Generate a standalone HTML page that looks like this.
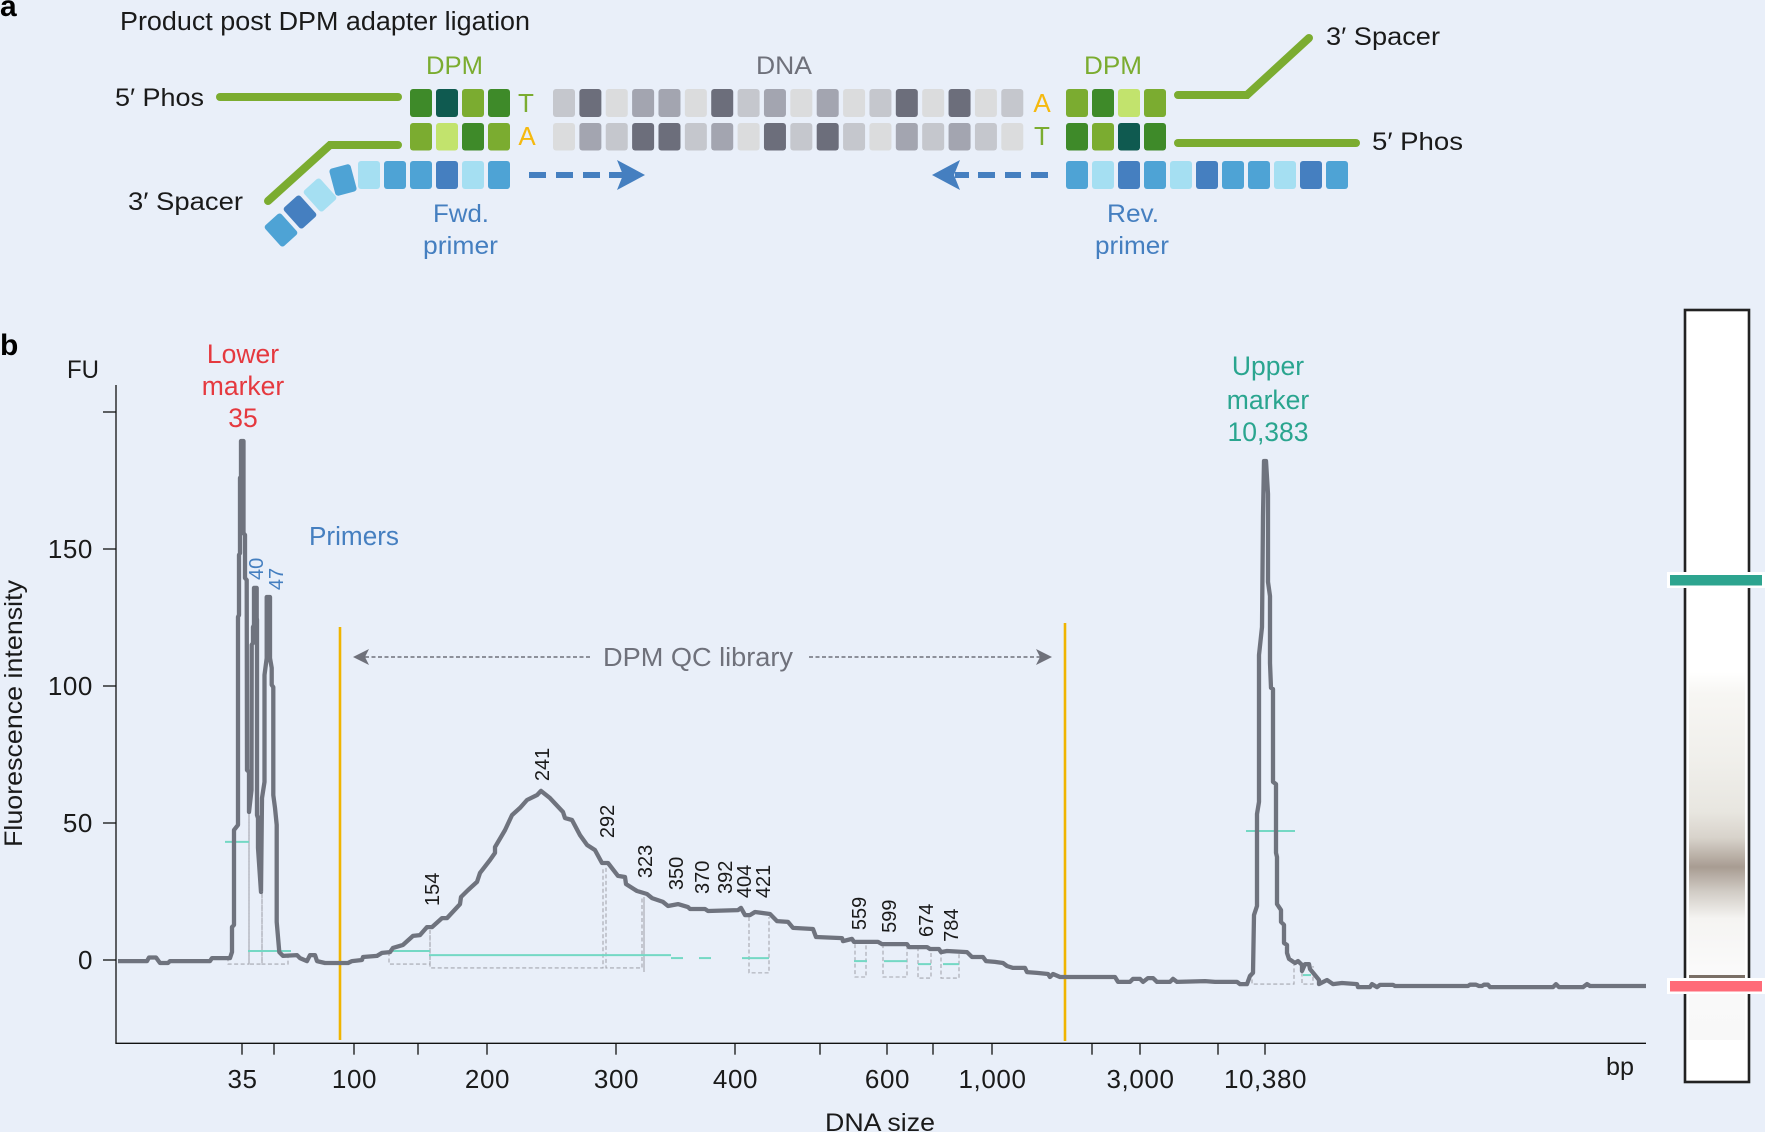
<!DOCTYPE html>
<html lang="en">
<head>
<meta charset="utf-8">
<title>DPM adapter ligation and library QC electropherogram</title>
<style>
  html, body { margin: 0; padding: 0; background: #e9eff9; }
  svg { display: block; font-family: "Liberation Sans", sans-serif; }
</style>
</head>
<body>
<svg id="figure" xmlns="http://www.w3.org/2000/svg" width="1765" height="1132" viewBox="0 0 1765 1132">
  <defs>
    <linearGradient id="gel-smear" gradientUnits="userSpaceOnUse" x1="0" y1="672" x2="0" y2="1040">
      <stop offset="0" stop-color="#ffffff"/>
      <stop offset="0.06" stop-color="#f7f6f3"/>
      <stop offset="0.24" stop-color="#f0efeb"/>
      <stop offset="0.38" stop-color="#e8e6e0"/>
      <stop offset="0.45" stop-color="#d8d3cb"/>
      <stop offset="0.53" stop-color="#a89c92"/>
      <stop offset="0.595" stop-color="#d0cbc4"/>
      <stop offset="0.67" stop-color="#f5f4f2"/>
      <stop offset="0.81" stop-color="#fafafa"/>
      <stop offset="1" stop-color="#f8f8f8"/>
    </linearGradient>
  </defs>
  <rect width="1765" height="1132" fill="#e9eff9"/>

  <g id="panel-a">
    <text x="0" y="16" font-size="30" font-weight="700" fill="#000">a</text>
    <text x="120" y="30" font-size="25.5" fill="#1a1a1a" textLength="410" lengthAdjust="spacingAndGlyphs">Product post DPM adapter ligation</text>
    <text x="426" y="74" font-size="25" fill="#7bac30" textLength="57" lengthAdjust="spacingAndGlyphs">DPM</text>
    <text x="756" y="74" font-size="25" fill="#6f717b" textLength="56" lengthAdjust="spacingAndGlyphs">DNA</text>
    <text x="1084" y="74" font-size="25" fill="#7bac30" textLength="58" lengthAdjust="spacingAndGlyphs">DPM</text>
    <text x="115" y="106" font-size="25" fill="#1a1a1a" textLength="89" lengthAdjust="spacingAndGlyphs">5′ Phos</text>
    <text x="128" y="210" font-size="25" fill="#1a1a1a" textLength="115" lengthAdjust="spacingAndGlyphs">3′ Spacer</text>
    <text x="1326" y="45" font-size="25" fill="#1a1a1a" textLength="114" lengthAdjust="spacingAndGlyphs">3′ Spacer</text>
    <text x="1372" y="150" font-size="25" fill="#1a1a1a" textLength="91" lengthAdjust="spacingAndGlyphs">5′ Phos</text>
    <text x="433" y="222" font-size="25" fill="#457fc0" textLength="56" lengthAdjust="spacingAndGlyphs">Fwd.</text>
    <text x="423" y="254" font-size="25" fill="#457fc0" textLength="75" lengthAdjust="spacingAndGlyphs">primer</text>
    <text x="1107" y="222" font-size="25" fill="#457fc0" textLength="52" lengthAdjust="spacingAndGlyphs">Rev.</text>
    <text x="1095" y="254" font-size="25" fill="#457fc0" textLength="74" lengthAdjust="spacingAndGlyphs">primer</text>
    <text x="526" y="112" font-size="26" text-anchor="middle" fill="#7bac30">T</text>
    <text x="527" y="145" font-size="26" text-anchor="middle" fill="#f5b90f">A</text>
    <text x="1042" y="112" font-size="26" text-anchor="middle" fill="#f5b90f">A</text>
    <text x="1042" y="145" font-size="26" text-anchor="middle" fill="#7bac30">T</text>
    <g fill="none" stroke="#7bac30" stroke-width="8" stroke-linecap="round" stroke-linejoin="miter">
      <path d="M220 97H398"/>
      <path d="M398 145H330L268 201"/>
      <path d="M1178 95H1247L1309 38"/>
      <path d="M1178 143H1356"/>
    </g>
    <g id="blocks"></g>
    <g fill="#457fc0">
      <rect x="529" y="172" width="17" height="6"/>
      <rect x="556" y="172" width="17" height="6"/>
      <rect x="583" y="172" width="17" height="6"/>
      <rect x="609" y="172" width="16" height="6"/>
      <polygon points="645,175 617,160 623,175 617,190"/>
      <rect x="955" y="172" width="14" height="6"/>
      <rect x="978" y="172" width="17" height="6"/>
      <rect x="1005" y="172" width="16" height="6"/>
      <rect x="1031" y="172" width="17" height="6"/>
      <polygon points="932,175 960,160 954,175 960,190"/>
    </g>
  </g>

  <g id="panel-b">
    <text x="0" y="355" font-size="30" font-weight="700" fill="#000">b</text>
    <text x="67" y="378" font-size="25" fill="#1a1a1a" textLength="32" lengthAdjust="spacingAndGlyphs">FU</text>
    <text transform="translate(22,847) rotate(-90)" font-size="25" fill="#1a1a1a" textLength="267" lengthAdjust="spacingAndGlyphs">Fluorescence intensity</text>
    <text x="825" y="1131" font-size="25" fill="#1a1a1a" textLength="110" lengthAdjust="spacingAndGlyphs">DNA size</text>
    <text x="1606" y="1075" font-size="25" fill="#1a1a1a" textLength="28" lengthAdjust="spacingAndGlyphs">bp</text>
    <g fill="#e5393f" font-size="26.5" text-anchor="middle">
      <text x="243" y="363">Lower</text>
      <text x="243" y="395">marker</text>
      <text x="243" y="427">35</text>
    </g>
    <g fill="#2aa58f" font-size="26.5" text-anchor="middle">
      <text x="1268" y="375">Upper</text>
      <text x="1268" y="409">marker</text>
      <text x="1268" y="441">10,383</text>
    </g>
    <text x="309" y="545" font-size="25.5" fill="#457fc0" textLength="90" lengthAdjust="spacingAndGlyphs">Primers</text>
    <line x1="340" y1="627" x2="340" y2="1040" stroke="#f0b400" stroke-width="2.6"/>
    <line x1="1065" y1="623" x2="1065" y2="1041" stroke="#f0b400" stroke-width="2.6"/>
    <text x="603" y="666" font-size="25.5" fill="#6f717b" textLength="190" lengthAdjust="spacingAndGlyphs">DPM QC library</text>
    <line x1="365" y1="657" x2="591" y2="657" stroke="#6f717b" stroke-width="1.5" stroke-dasharray="4 2.5"/>
    <polygon points="353,657 369,649 365,657 369,665" fill="#6f717b"/>
    <line x1="809" y1="657" x2="1041" y2="657" stroke="#6f717b" stroke-width="1.5" stroke-dasharray="4 2.5"/>
    <polygon points="1052,657 1036,649 1040,657 1036,665" fill="#6f717b"/>
    <g id="chart"></g>
  </g>

  <g id="gel">
    <rect x="1685" y="310" width="64" height="772" fill="#ffffff" stroke="#222222" stroke-width="2.6"/>
    <rect x="1689" y="672" width="56" height="368" fill="url(#gel-smear)"/>
    <rect x="1689" y="975" width="56" height="3.5" fill="#7a6f66"/>
    <rect x="1667" y="572" width="98" height="16" fill="#ffffff"/>
    <rect x="1670" y="575" width="92" height="10.5" fill="#2da48f"/>
    <rect x="1667" y="978" width="98" height="16" fill="#ffffff"/>
    <rect x="1670" y="981" width="92" height="10.5" fill="#ff6b78"/>
  </g>
</svg>

<script>
/* Electropherogram values: migration time (s) and fluorescence (FU) */
const timeValues = [0.2,3.1,3.3,4.0,4.4,5.2,5.4,9.4,9.6,11.4,11.6,11.6,11.8,11.8,12.2,12.2,12.3,12.3,12.4,12.4,12.5,12.5,12.75,12.75,12.9,12.9,13.07,13.1,13.3,13.3,13.55,13.57,13.7,13.7,13.8,13.8,14.07,14.07,14.1,14.1,14.2,14.2,14.5,14.6,14.85,14.85,15.07,15.07,15.4,15.4,15.57,15.57,15.73,15.73,15.9,16.07,16.07,16.33,16.7,18.1,18.4,19.1,19.4,19.9,20.1,20.9,23.2,23.6,24.6,24.7,26.1,26.6,27.4,27.7,28.7,29.7,30.4,31.1,31.6,32.6,33.1,34.4,34.5,35.2,36.1,36.4,37.4,37.9,37.9,38.9,39.6,40.4,41.1,42.1,42.5,43.4,44.7,44.9,45.6,46.4,47.1,47.9,48.6,49.2,50.2,50.9,51.0,52.1,53.1,53.6,54.7,55.2,56.2,57.2,57.4,58.9,59.2,62.2,62.5,62.9,63.4,63.9,65.4,66.1,67.2,67.7,69.7,70.0,72.6,72.7,73.6,73.8,76.2,76.6,79.1,79.3,81.1,81.4,82.3,82.5,83.1,85.1,85.6,86.7,87.0,87.9,88.7,89.1,89.7,90.9,91.1,92.1,93.2,93.4,93.7,94.4,99.9,100.2,101.4,101.7,102.4,102.7,103.2,103.7,104.1,105.4,105.7,106.1,108.9,109.9,112.1,112.4,113.1,113.4,113.7,113.8,114.1,114.1,114.3,114.3,114.6,114.7,114.8,115.0,115.2,115.2,115.4,115.4,115.5,115.7,115.7,116.0,116.0,116.1,116.1,116.5,116.5,116.8,116.8,117.1,117.1,117.3,117.9,118.2,118.6,118.6,118.9,119.3,119.4,120.3,120.3,121.1,121.7,122.6,124.1,124.2,125.4,125.6,126.1,126.4,127.7,127.9,135.2,135.4,136.0,136.3,136.6,136.8,137.2,137.4,143.7,144.0,144.3,146.7,147.1,147.4,153.0];
const fuValues = [-0.4,-0.4,0.9,0.9,-1.1,-1.1,-0.4,-0.4,0.7,0.7,2.9,12.0,12.8,47.4,49.3,125.2,125.9,147.8,148.5,175.9,176.6,189.4,189.4,155.8,155.1,139.4,138.7,69.3,68.6,54.0,62.0,115.0,115.7,121.5,122.3,135.8,135.8,124.8,124.1,52.9,51.8,40.9,24.8,59.1,65.0,104.0,110.2,132.5,132.5,110.2,106.6,100.4,99.6,60.2,55.5,49.3,13.9,2.9,1.5,1.8,0.7,-0.4,1.8,1.8,-0.4,-1.1,-1.1,-0.4,0,1.1,1.5,2.6,2.9,4.4,5.5,8.8,9.1,12.0,12.0,15.3,15.3,20.4,23.0,25.5,28.5,31.8,36.5,39.1,41.2,47.4,52.9,55.5,58.4,60.2,61.7,59.1,54.0,51.8,51.1,45.6,42.0,40.1,35.4,35.4,30.7,30.3,27.7,25.2,24.1,22.6,21.2,19.7,20.4,19.3,18.6,18.6,17.9,18.2,19.0,16.4,16.4,17.5,16.8,14.2,13.9,11.7,11.3,8.4,8.0,6.9,7.7,6.6,6.6,5.8,5.8,4.7,4.7,4.0,4.0,2.9,3.3,2.9,1.1,1.1,-0.4,-0.7,-1.1,-2.2,-2.9,-2.9,-4.4,-4.7,-5.1,-6.2,-5.1,-6.2,-6.2,-8.0,-8.0,-6.9,-6.9,-8.0,-6.6,-6.6,-8.0,-8.0,-6.9,-8.0,-7.7,-8.0,-8.0,-8.8,-8.8,-5.8,-4.7,16.4,19.7,53.3,57.7,111.3,121.5,162.0,182.1,182.1,170.1,138.0,132.8,108.4,99.3,98.9,65.0,64.2,39.1,37.6,20.4,18.2,13.9,12.8,6.2,5.5,2.6,0.4,-1.1,-0.4,-1.8,-4.0,-1.5,-1.5,-3.3,-7.3,-8.8,-7.3,-8.8,-8.4,-8.8,-9.9,-9.9,-8.8,-9.9,-9.1,-9.1,-9.5,-9.5,-9.0,-9.0,-9.5,-9.5,-9.0,-9.0,-9.9,-9.9,-8.8,-9.9,-9.9,-8.8,-9.5,-9.5];

/* Axis ticks */
const xTickTimes = [12.6,15.8,23.8,30.2,37.1,50.0,61.9,70.4,77.1,81.7,87.6,97.6,102.4,110.2,114.9];
const xTickLabels = ['35','','100','','200','300','400','','600','','1,000','','3,000','','10,380'];
const yTickValues = [200,150,100,50,0];
const yTickLabels = ['','150','100','50','0'];

/* Peak size labels */
const peakLabels = ['154','241','292','323','350','370','392','404','421','559','599','674','784'];
const peakLabelTimes = [32.3,43.3,49.8,53.6,56.7,59.3,61.6,63.5,65.4,75.0,78.0,81.7,84.2];
const peakLabelFU = [19.7,65.3,44.5,29.9,25.5,24.1,24.1,22.6,22.6,10.9,9.9,8.4,6.6];
const primerLabels = ['40','47'];
const primerLabelTimes = [14.7,16.7];
const primerLabelFU = [138.7,135.0];

/* Teal peak-height baselines */
const baselineStart = [10.9,13.2,27.7,31.3,55.5,58.3,62.6,73.8,76.8,80.2,82.7,113.0,118.7];
const baselineEnd = [13.3,17.5,31.4,55.5,56.7,59.5,65.3,75.1,79.1,81.5,84.3,117.9,119.5];
const baselineFU = [43.1,3.3,3.3,1.8,0.7,0.7,0.7,-0.4,-0.4,-1.5,-1.5,47.1,-5.5];

/* Dashed peak integration windows */
const windowStart = [11.2,13.3,14.6,27.3,31.4,49.0,52.8,63.3,73.9,76.7,80.2,82.5,113.6,118.6];
const windowEnd = [13.3,14.6,17.2,31.4,48.7,52.6,52.8,65.3,75.0,79.1,81.5,84.3,117.8,119.7];
const windowTopLeft = [1.0,69.3,24.8,2.9,10.9,33.6,23.0,15.7,5.8,5.8,4.7,3.3,-4.7,-2.2];
const windowTopRight = [69.3,24.8,1.8,10.9,33.6,23.0,23.0,15.7,5.8,5.8,4.7,3.3,-1.8,-2.2];
const windowBottom = [-1.5,-1.5,-1.5,-1.5,-2.9,-2.9,-4.4,-4.7,-6.2,-6.2,-6.6,-6.6,-8.8,-8.8];

const SVG_NS = 'http://www.w3.org/2000/svg';
const chart = document.getElementById('chart');
const xScale = t => 116 + (t / 153) * 1530;
const yScale = fu => 960 - fu * 2.74;

function make(tag, parent, attrs) {
  const el = document.createElementNS(SVG_NS, tag);
  for (const k in attrs) el.setAttribute(k, attrs[k]);
  parent.appendChild(el);
  return el;
}

/* axes */
const yAxisLine = make('line', chart, {x1: 116, y1: 385, x2: 116, y2: 1043.5, stroke: '#111', 'stroke-width': 1.3});


const xAxisLine = make('line', chart, {x1: 115.4, y1: 1043.3, x2: 1646, y2: 1043.3, stroke: '#111', 'stroke-width': 1.3});



yTickValues.forEach((v, i) => {
  const tick = make('line', chart, {x1: 103, y1: yScale(v), x2: 116, y2: yScale(v), stroke: '#111', 'stroke-width': 1.3});
  
  
  if (yTickLabels[i]) {
    const label = make('text', chart, {x: 93, y: yScale(v) + 9, 'font-size': 26, 'letter-spacing': 0.6, 'text-anchor': 'end', fill: '#1a1a1a'});
    label.textContent = yTickLabels[i];
    
    
  }
});

xTickTimes.forEach((t, i) => {
  const tick = make('line', chart, {x1: xScale(t), y1: 1043, x2: xScale(t), y2: 1054.7, stroke: '#111', 'stroke-width': 1.3});
  
  
  if (xTickLabels[i]) {
    const label = make('text', chart, {x: xScale(t) + 0.5, y: 1088, 'font-size': 26, 'letter-spacing': 0.6, 'text-anchor': 'middle', fill: '#1a1a1a'});
    label.textContent = xTickLabels[i];
    
    
  }
});

/* dashed integration windows */
windowStart.forEach((s, i) => {
  const pts = [
    [xScale(s), yScale(windowTopLeft[i])],
    [xScale(s), yScale(windowBottom[i])],
    [xScale(windowEnd[i]), yScale(windowBottom[i])],
    [xScale(windowEnd[i]), yScale(windowTopRight[i])]
  ];
  const win = make('polyline', chart, {points: pts.map(p => p.join(',')).join(' '), fill: 'none', stroke: '#a5a7b0', 'stroke-width': 1.1, 'stroke-dasharray': '4 2.5'});
  
  
});

/* teal baselines */
baselineStart.forEach((s, i) => {
  const base = make('line', chart, {x1: xScale(s), y1: yScale(baselineFU[i]), x2: xScale(baselineEnd[i]), y2: yScale(baselineFU[i]), stroke: '#74d8c4', 'stroke-width': 2});
  
  
});

/* fluorescence trace */
const tracePoints = timeValues.map((t, i) => xScale(t).toFixed(1) + ',' + yScale(fuValues[i]).toFixed(1)).join(' ');
const trace = make('polyline', chart, {points: tracePoints, fill: 'none', stroke: '#6f737e', 'stroke-width': 4.3, 'stroke-linejoin': 'round', 'stroke-linecap': 'butt'});



/* peak labels */
peakLabels.forEach((txt, i) => {
  const label = make('text', chart, {transform: 'translate(' + xScale(peakLabelTimes[i]) + ',' + yScale(peakLabelFU[i]) + ') rotate(-90)', 'font-size': 20, fill: '#1a1a1a'});
  label.textContent = txt;
  
  
});
primerLabels.forEach((txt, i) => {
  const label = make('text', chart, {transform: 'translate(' + xScale(primerLabelTimes[i]) + ',' + yScale(primerLabelFU[i]) + ') rotate(-90)', 'font-size': 20, fill: '#457fc0'});
  label.textContent = txt;
  
  
});

/* Panel a sequence blocks */
const blocks = document.getElementById('blocks');
const G1 = '#3e8a29', G2 = '#0f5a50', G3 = '#7bac30', G4 = '#c2e36d';
const B1 = '#4ea3d5', B2 = '#a5dff2', B3 = '#457fc0';
const K = '#6c6e7b', M = '#a3a5b0', C = '#c5c7cd', L = '#dbdcdd';
const dnaTop = [C,K,L,M,M,L,K,C,M,L,M,L,C,K,L,K,L,C];
const dnaBottom = [L,M,C,K,K,C,M,L,K,C,K,C,L,M,C,M,C,L];
const leftTop = [G1,G2,G3,G1];
const leftBottom = [G3,G4,G1,G3];
const rightTop = [G3,G1,G4,G3];
const rightBottom = [G1,G3,G2,G1];
const fwdPrimer = [B2,B1,B1,B3,B2,B1];
const revPrimer = [B1,B2,B3,B1,B2,B3,B1,B1,B2,B3,B1];

function blockRow(colors, x0, pitch, y, h, name) {
  colors.forEach((c, i) => {
    const r = make('rect', blocks, {x: x0 + i * pitch, y: y, width: 22, height: h, rx: 3, fill: c});
    
    
  });
}
blockRow(dnaTop, 553, 26.37, 89, 28, 'dna-top-block');
blockRow(dnaBottom, 553, 26.37, 123, 27.5, 'dna-bottom-block');
blockRow(leftTop, 410, 26, 89, 28, 'left-adapter-top-block');
blockRow(leftBottom, 410, 26, 123, 27.5, 'left-adapter-bottom-block');
blockRow(rightTop, 1066, 26, 89, 28, 'right-adapter-top-block');
blockRow(rightBottom, 1066, 26, 123, 27.5, 'right-adapter-bottom-block');
blockRow(fwdPrimer, 358, 26, 161, 28, 'fwd-primer-block');
blockRow(revPrimer, 1066, 26, 161, 28, 'rev-primer-block');

const tailColors = [B1,B2,B3,B1];
const tailCx = [343,320,300,281];
const tailCy = [180,195,212,230];
const tailAngles = [-15,-42,-42,-42];
tailColors.forEach((c, i) => {
  const r = make('rect', blocks, {x: tailCx[i] - 11, y: tailCy[i] - 14, width: 22, height: 28, rx: 3, fill: c, transform: 'rotate(' + tailAngles[i] + ' ' + tailCx[i] + ' ' + tailCy[i] + ')'});
  
  
});
</script>
</body>
</html>
